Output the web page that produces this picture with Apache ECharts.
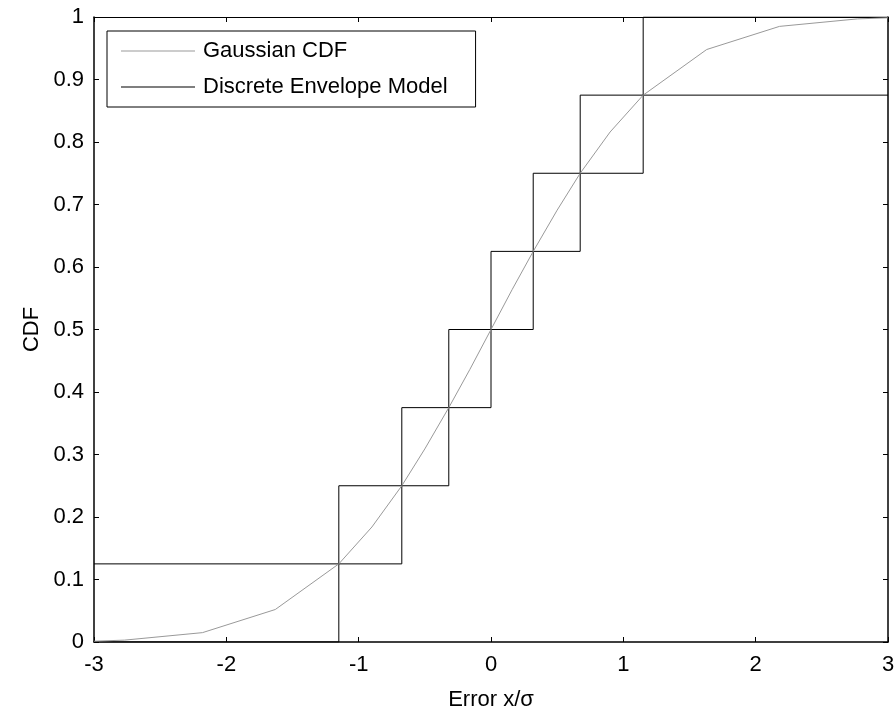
<!DOCTYPE html>
<html><head><meta charset="utf-8">
<script src="https://cdn.jsdelivr.net/npm/echarts@6/dist/echarts.min.js"></script>
<style>html,body{margin:0;padding:0;background:#fff}#c{width:896px;height:711px}</style>
</head><body><div id="c"></div>
<script>
// Gaussian CDF samples
var gaussX = [-3, -2.77, -2.18, -1.63, -1.15, -0.9, -0.674, -0.5, -0.319, -0.16, 0, 0.16, 0.319, 0.5, 0.674, 0.9, 1.15, 1.63, 2.18, 2.77, 3];
var gaussY = [0.0013, 0.003, 0.015, 0.052, 0.125, 0.184, 0.25, 0.309, 0.375, 0.436, 0.5, 0.564, 0.625, 0.691, 0.75, 0.816, 0.875, 0.948, 0.985, 0.997, 0.9987];
// Discrete envelope model: breakpoints and levels
var stepX = [-3, -1.15, -0.674, -0.319, 0, 0.319, 0.674, 1.15, 3];
var upperLevels = [0.125, 0.25, 0.375, 0.5, 0.625, 0.75, 0.875, 1, 1];
var lowerLevels = [0, 0.125, 0.25, 0.375, 0.5, 0.625, 0.75, 0.875, 0.875];
var xTicks = [-3, -2, -1, 0, 1, 2, 3];
var yTicks = [0, 0.1, 0.2, 0.3, 0.4, 0.5, 0.6, 0.7, 0.8, 0.9, 1];

function zip(a, b) { return a.map(function (v, i) { return [v, b[i]]; }); }
var FONT = 'Liberation Sans, Arial, sans-serif';
var FS = 22;
var chart = echarts.init(document.getElementById('c'));
var tickStyle = { inside: true, length: 5, lineStyle: { color: '#000', width: 1 } };
chart.setOption({
  animation: false,
  backgroundColor: '#fff',
  grid: { left: 94, right: 8, top: 17, bottom: 69, outerBoundsMode: 'none', containLabel: false },
  legend: {
    orient: 'vertical', left: 107, top: 31,
    padding: [9, 28, 9, 14], itemGap: 14,
    itemWidth: 74, itemHeight: 1, icon: 'rect',
    borderColor: '#000', borderWidth: 1, backgroundColor: '#fff',
    textStyle: { fontFamily: FONT, fontSize: FS, color: '#000', padding: [2, 0, 0, 3] },
    data: [
      { name: 'Gaussian CDF', itemStyle: { color: '#999' } },
      { name: 'Discrete Envelope Model', itemStyle: { color: '#000' } }
    ]
  },
  xAxis: [{
    type: 'value', min: -3, max: 3, interval: 1, position: 'bottom',
    name: 'Error x/σ', nameLocation: 'middle', nameGap: 47,
    nameTextStyle: { fontFamily: FONT, fontSize: FS, color: '#000' },
    axisLine: { show: true, onZero: false, lineStyle: { color: '#000', width: 1.5 } },
    axisTick: tickStyle,
    axisLabel: { fontFamily: FONT, fontSize: FS, color: '#000', margin: 12 },
    splitLine: { show: false }
  }, {
    type: 'value', min: -3, max: 3, interval: 1, position: 'top',
    axisLine: { show: true, onZero: false, lineStyle: { color: '#000', width: 1 } },
    axisTick: tickStyle, axisLabel: { show: false }, splitLine: { show: false }
  }],
  yAxis: [{
    type: 'value', min: 0, max: 1, interval: 0.1, position: 'left',
    name: 'CDF', nameLocation: 'middle', nameGap: 48, nameRotate: 90,
    nameTextStyle: { fontFamily: FONT, fontSize: FS, color: '#000' },
    axisLine: { show: true, onZero: false, lineStyle: { color: '#000', width: 1.5 } },
    axisTick: tickStyle,
    axisLabel: { fontFamily: FONT, fontSize: FS, color: '#000', margin: 10, padding: [4, 0, 0, 0],
      formatter: function (v) { return String(Math.round(v * 10) / 10); } },
    splitLine: { show: false }
  }, {
    type: 'value', min: 0, max: 1, interval: 0.1, position: 'right',
    axisLine: { show: true, onZero: false, lineStyle: { color: '#000', width: 1.5 } },
    axisTick: tickStyle, axisLabel: { show: false }, splitLine: { show: false }
  }],
  series: [{
    name: 'Gaussian CDF', type: 'line', data: zip(gaussX, gaussY),
    showSymbol: false, lineStyle: { color: '#999', width: 1 }, itemStyle: { color: '#999' }, z: 3
  }, {
    name: 'Discrete Envelope Model', type: 'line', step: 'end', data: zip(stepX, upperLevels),
    showSymbol: false, lineStyle: { color: '#000', width: 1 }, itemStyle: { color: '#000' }, z: 2
  }, {
    name: 'Discrete Envelope Model', type: 'line', step: 'end', data: zip(stepX, lowerLevels),
    showSymbol: false, lineStyle: { color: '#000', width: 1 }, itemStyle: { color: '#000' }, z: 2
  }]
});
</script></body></html>
